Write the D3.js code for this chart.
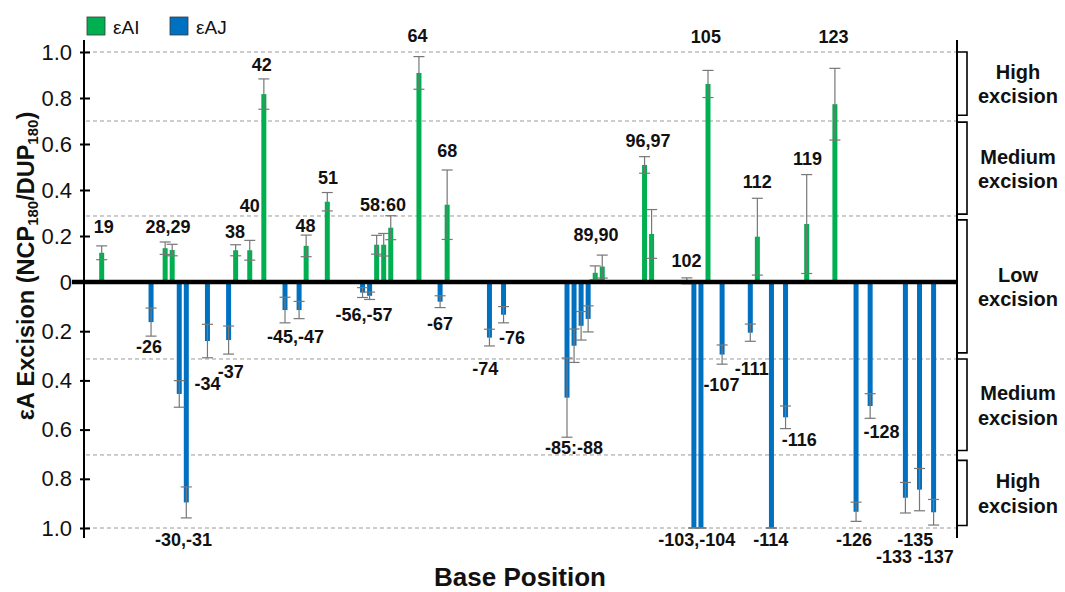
<!DOCTYPE html>
<html>
<head>
<meta charset="utf-8">
<script src="https://cdn.jsdelivr.net/npm/d3@7"></script>
<style>
  body { margin: 0; background: #fff; }
  svg { display: block; font-family: "Liberation Sans", Arial, sans-serif; }
</style>
</head>
<body>
<div id="chart"></div>
<script>
// εAI (green, plotted upwards)
const aiPos = [19, 28, 29, 38, 40, 42, 48, 51, 58, 59, 60, 64, 68, 89, 90, 96, 97, 102, 105, 112, 119, 123];
const aiVal = [0.127, 0.147, 0.139, 0.138, 0.138, 0.817, 0.157, 0.349, 0.162, 0.162, 0.236, 0.909, 0.336, 0.040, 0.067, 0.509, 0.209, 0.005, 0.861, 0.197, 0.252, 0.773];
const aiErr = [0.030, 0.027, 0.025, 0.024, 0.043, 0.066, 0.047, 0.040, 0.041, 0.049, 0.052, 0.071, 0.151, 0.030, 0.050, 0.036, 0.106, 0.013, 0.059, 0.167, 0.215, 0.156];

// εAJ (blue, plotted downwards)
const ajPos = [26, 30, 31, 34, 37, 45, 47, 56, 57, 67, 74, 76, 85, 86, 87, 88, 103, 104, 107, 111, 114, 116, 126, 128, 133, 135, 137];
const ajVal = [0.163, 0.455, 0.896, 0.240, 0.236, 0.114, 0.114, 0.043, 0.056, 0.080, 0.226, 0.133, 0.470, 0.259, 0.178, 0.150, 1.0, 1.0, 0.295, 0.206, 1.0, 0.550, 0.934, 0.504, 0.877, 0.844, 0.936];
const ajErr = [0.057, 0.054, 0.063, 0.068, 0.057, 0.052, 0.035, 0.020, 0.015, 0.024, 0.034, 0.033, 0.161, 0.068, 0.058, 0.053, 0, 0, 0.039, 0.035, 0, 0.046, 0.039, 0.050, 0.062, 0.086, 0.052];

// position labels and where they sit (base position, excision value)
const aiLabels = ["19", "28,29", "38", "40", "42", "48", "51", "58:60", "64", "68", "89,90", "96,97", "102", "105", "112", "119", "123"];
const aiLabelAt = [[19.3, 0.213], [28.4, 0.213], [37.9, 0.191], [40.0, 0.304], [41.7, 0.917], [47.9, 0.217], [51.1, 0.426], [58.9, 0.309], [63.8, 1.043], [68.0, 0.543], [89.1, 0.178], [96.5, 0.588], [101.95, 0.067], [104.7, 1.04], [112.0, 0.407], [119.1, 0.51], [122.8, 1.038]];
const ajLabels = ["-26", "-30,-31", "-34", "-37", "-45,-47", "-56,-57", "-67", "-74", "-76", "-85:-88", "-103,-104", "-107", "-111", "-114", "-116", "-126", "-128", "-135", "-133", "-137"];
const ajLabelAt = [[25.7, 0.29], [30.6, 1.072], [34.0, 0.439], [37.3, 0.391], [46.5, 0.249], [56.2, 0.157], [67.0, 0.195], [73.4, 0.378], [77.2, 0.253], [86.0, 0.699], [103.4, 1.072], [106.9, 0.443], [111.2, 0.378], [113.9, 1.072], [117.95, 0.667], [125.7, 1.072], [129.6, 0.635], [134.4, 1.072], [131.4, 1.141], [137.3, 1.141]];

const tickVals = [0, 0.2, 0.4, 0.6, 0.8, 1.0];
const gridUp = [1.0, 0.7, 0.287];
const gridDown = [0.313, 0.703, 1.0];

// excision bands: [side, from, side, to]
const bandNames = ["High", "Medium", "Low", "Medium", "High"];
const bandRanges = [["up", 1.0, "up", 0.725], ["up", 0.695, "up", 0.295], ["up", 0.27, "down", 0.288], ["down", 0.313, "down", 0.685], ["down", 0.725, "down", 0.99]];

const W = 1065, H = 592;
const green = "#00b050", blue = "#0070c0";

const svg = d3.select("#chart").append("svg").attr("width", W).attr("height", H);

const x = d3.scaleLinear().domain([0, 140]).range([-32.25, 954.75]);
const yUp = d3.scaleLinear().domain([0, 1]).range([282, 52]);
const yDown = d3.scaleLinear().domain([0, 1]).range([282, 528]);
const Y = s => s === "up" ? yUp : yDown;

const xL = 84, xR = 957;

// dashed band lines
svg.append("g").selectAll("line")
    .data(gridUp.map(v => yUp(v)).concat(gridDown.map(v => yDown(v))))
    .join("line")
    .attr("x1", xL + 2).attr("x2", xR)
    .attr("y1", d => d).attr("y2", d => d)
    .attr("stroke", "#9a9a9a").attr("stroke-width", 1)
    .attr("stroke-dasharray", "4,3");

// axes
const axUp = d3.axisLeft(yUp).tickValues(tickVals).tickSize(10).tickPadding(8)
    .tickFormat(d => d === 0 ? "0" : d3.format(".1f")(d));
const axDown = d3.axisLeft(yDown).tickValues(tickVals.slice(1)).tickSize(10).tickPadding(8)
    .tickFormat(d3.format(".1f"));
[axUp, axDown].forEach(ax => {
    const g = svg.append("g").attr("transform", `translate(${xL + 6},0)`).call(ax);
    g.select(".domain").remove();
    g.attr("font-size", 22).attr("font-family", "Liberation Sans, Arial, sans-serif");
    g.selectAll(".tick line").attr("stroke", "#000").attr("stroke-width", 2);
    g.selectAll(".tick text").attr("fill", "#111");
});
svg.append("line").attr("x1", xL).attr("x2", xL).attr("y1", 40).attr("y2", 538)
    .attr("stroke", "#000").attr("stroke-width", 2);
svg.append("line").attr("x1", xR).attr("x2", xR).attr("y1", 40).attr("y2", 538)
    .attr("stroke", "#000").attr("stroke-width", 2);

// bars
const ai = aiPos.map((p, i) => ({p, v: aiVal[i], e: aiErr[i]}));
const aj = ajPos.map((p, i) => ({p, v: ajVal[i], e: ajErr[i]}));
const bw = 5;

svg.append("g").selectAll("rect").data(ai).join("rect")
    .attr("x", d => x(d.p) - bw / 2).attr("width", bw)
    .attr("y", d => yUp(d.v)).attr("height", d => yUp(0) - yUp(d.v))
    .attr("fill", green);
svg.append("g").selectAll("rect").data(aj).join("rect")
    .attr("x", d => x(d.p) - bw / 2).attr("width", bw)
    .attr("y", yDown(0)).attr("height", d => yDown(d.v) - yDown(0))
    .attr("fill", blue);

// error bars
function errBars(data, sc) {
    const g = svg.append("g").attr("stroke", "#777").attr("stroke-width", 1.2);
    const eb = g.selectAll("g").data(data).join("g");
    eb.append("line").attr("x1", d => x(d.p)).attr("x2", d => x(d.p))
        .attr("y1", d => sc(d.v - d.e)).attr("y2", d => sc(d.v + d.e));
    [-1, 1].forEach(s => {
        eb.append("line").attr("x1", d => x(d.p) - 5.5).attr("x2", d => x(d.p) + 5.5)
            .attr("y1", d => sc(d.v + s * d.e)).attr("y2", d => sc(d.v + s * d.e));
    });
}
errBars(ai, yUp);
errBars(aj, yDown);

// zero line
svg.append("line").attr("x1", 72).attr("x2", xR).attr("y1", 282).attr("y2", 282)
    .attr("stroke", "#000").attr("stroke-width", 4.5);

// position labels
svg.append("g").selectAll("text").data(aiLabels).join("text")
    .attr("x", (d, i) => x(aiLabelAt[i][0])).attr("y", (d, i) => yUp(aiLabelAt[i][1]))
    .attr("text-anchor", "middle").attr("font-size", 18).attr("font-weight", "bold")
    .attr("fill", "#111").text(d => d);
svg.append("g").selectAll("text").data(ajLabels).join("text")
    .attr("x", (d, i) => x(ajLabelAt[i][0])).attr("y", (d, i) => yDown(ajLabelAt[i][1]))
    .attr("text-anchor", "middle").attr("font-size", 18).attr("font-weight", "bold")
    .attr("fill", "#111").text(d => d);

// excision brackets
const bands = bandRanges.map((r, i) => ({name: bandNames[i], y1: Y(r[0])(r[1]), y2: Y(r[2])(r[3])}));
svg.append("g").selectAll("path").data(bands).join("path")
    .attr("d", d => `M${xR},${d.y1}H${xR + 10}V${d.y2}H${xR}`)
    .attr("fill", "none").attr("stroke", "#000").attr("stroke-width", 1.6);
const bt = svg.append("g").selectAll("text").data(bands).join("text")
    .attr("text-anchor", "middle").attr("font-size", 20).attr("font-weight", "bold").attr("fill", "#111");
bt.append("tspan").attr("x", 1018).attr("y", d => (d.y1 + d.y2) / 2 - 4.6).text(d => d.name);
bt.append("tspan").attr("x", 1018).attr("y", d => (d.y1 + d.y2) / 2 + 19.8).text("excision");

// legend
const legend = [["εAI", green], ["εAJ", blue]];
const lg = svg.append("g").selectAll("g").data(legend).join("g")
    .attr("transform", (d, i) => `translate(${87 + i * 83},17)`);
lg.append("rect").attr("width", 18).attr("height", 18)
    .attr("fill", d => d[1]).attr("stroke", "#3a3a3a").attr("stroke-width", 0.8);
lg.append("text").attr("x", 26).attr("y", 17).attr("font-size", 19).attr("fill", "#111").text(d => d[0]);

// axis titles
svg.append("text").attr("x", 520).attr("y", 586).attr("text-anchor", "middle")
    .attr("font-size", 26).attr("font-weight", "bold").attr("fill", "#111").text("Base Position");
const yt = svg.append("text").attr("transform", "translate(34,266) rotate(-90)")
    .attr("text-anchor", "middle").attr("font-size", 23.5).attr("font-weight", "bold").attr("fill", "#111");
yt.append("tspan").text("εA Excision (NCP");
yt.append("tspan").attr("font-size", 15).attr("dy", 4).text("180");
yt.append("tspan").attr("dy", -4).text("/DUP");
yt.append("tspan").attr("font-size", 15).attr("dy", 4).text("180");
yt.append("tspan").attr("dy", -4).text(")");
</script>
</body>
</html>
